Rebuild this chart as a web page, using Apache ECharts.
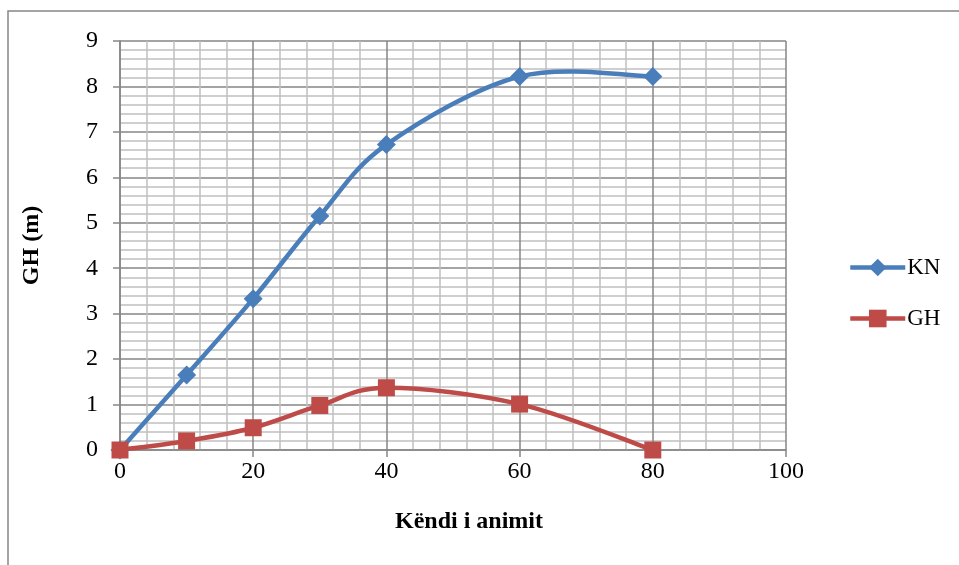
<!DOCTYPE html>
<html><head><meta charset="utf-8">
<script src="https://cdn.jsdelivr.net/npm/echarts@6/dist/echarts.min.js"></script>
<style>html,body{margin:0;padding:0;background:#fff}#c{width:959px;height:565px}</style>
</head><body><div id="c"></div>
<script>
const angles = [0, 10, 20, 30, 40, 60, 80];
const knValues = [0, 1.65, 3.33, 5.15, 6.72, 8.22, 8.22];
const ghValues = [0, 0.2, 0.49, 0.98, 1.37, 1.01, 0];
const seriesNames = ['KN', 'GH'];
const xTitle = 'Këndi i animit';
const yTitle = 'GH (m)';

const font = 'Liberation Serif';
const colors = ['#4a7ebb', '#be4b48'];
const chart = echarts.init(document.getElementById('c'));
const pair = (xs, ys) => xs.map((x, i) => [x, ys[i]]);

// Excel-style smoothed curve (Catmull-Rom through the points, in pixel space via api.coord)
function smoothCurve(values, color) {
  return {
    type: 'custom', silent: true, z: 2,
    data: [0],
    renderItem: function (params, api) {
      const pts = angles.map((x, i) => api.coord([x, values[i]]));
      const n = pts.length;
      let d = 'M' + pts[0][0] + ',' + pts[0][1];
      for (let i = 0; i < n - 1; i++) {
        const p0 = pts[Math.max(i - 1, 0)], p1 = pts[i], p2 = pts[i + 1], p3 = pts[Math.min(i + 2, n - 1)];
        const c1 = [p1[0] + (p2[0] - p0[0]) / 6, p1[1] + (p2[1] - p0[1]) / 6];
        const c2 = [p2[0] - (p3[0] - p1[0]) / 6, p2[1] - (p3[1] - p1[1]) / 6];
        d += ' C' + c1[0] + ',' + c1[1] + ' ' + c2[0] + ',' + c2[1] + ' ' + p2[0] + ',' + p2[1];
      }
      return {type: 'path', shape: {pathData: d},
        style: {fill: 'none', stroke: color, lineWidth: 4.5, lineCap: 'round', lineJoin: 'round'}};
    }
  };
}

const axisCommon = {
  axisLine: {show: true, lineStyle: {color: '#868686', width: 1.5}},
  axisTick: {show: true, inside: false, length: 7, lineStyle: {color: '#868686', width: 1.5}},
  splitLine: {show: true, lineStyle: {color: '#868686', width: 1.5}},
  minorTick: {show: false, splitNumber: 5},
  minorSplitLine: {show: true, lineStyle: {color: '#c0c0c0', width: 1.5}}
};

chart.setOption({
  animation: false,
  backgroundColor: '#fff',
  graphic: [{type: 'rect', shape: {x: 8, y: 11, width: 1000, height: 600}, style: {fill: 'none', stroke: '#868686', lineWidth: 1.5}, silent: true}],
  grid: {left: 120, right: 173, top: 41, bottom: 115},
  legend: {
    orient: 'vertical', left: 848, top: 256, padding: 0, itemGap: 28, itemWidth: 55, itemHeight: 22,
    textStyle: {fontFamily: font, fontSize: 23, color: '#000', padding: [0, 0, 0, -3]},
    data: [
      {name: seriesNames[0], lineStyle: {width: 4.5, color: colors[0], opacity: 1}},
      {name: seriesNames[1], lineStyle: {width: 4.5, color: colors[1], opacity: 1}}
    ]
  },
  xAxis: Object.assign({
    type: 'value', min: 0, max: 100, interval: 20,
    name: xTitle, nameLocation: 'middle', nameGap: 60,
    nameTextStyle: {fontFamily: font, fontSize: 24, fontWeight: 'bold', color: '#000', padding: [0, 0, 0, 32]},
    axisLabel: {fontFamily: font, fontSize: 24, color: '#000', margin: 10}
  }, axisCommon),
  yAxis: Object.assign({
    type: 'value', min: 0, max: 9, interval: 1,
    name: yTitle, nameLocation: 'middle', nameGap: 76, nameRotate: 90,
    nameTextStyle: {fontFamily: font, fontSize: 24, fontWeight: 'bold', color: '#000'},
    axisLabel: {fontFamily: font, fontSize: 24, color: '#000', margin: 22}
  }, axisCommon),
  series: [
    smoothCurve(knValues, colors[0]),
    smoothCurve(ghValues, colors[1]),
    {name: seriesNames[0], type: 'line', data: pair(angles, knValues), z: 3,
     symbol: 'diamond', symbolSize: 19, color: colors[0],
     lineStyle: {width: 4.5, color: colors[0], opacity: 0}, itemStyle: {color: colors[0]}},
    {name: seriesNames[1], type: 'line', data: pair(angles, ghValues), z: 3,
     symbol: 'rect', symbolSize: 17, color: colors[1],
     lineStyle: {width: 4.5, color: colors[1], opacity: 0}, itemStyle: {color: colors[1]}}
  ]
});
</script></body></html>
